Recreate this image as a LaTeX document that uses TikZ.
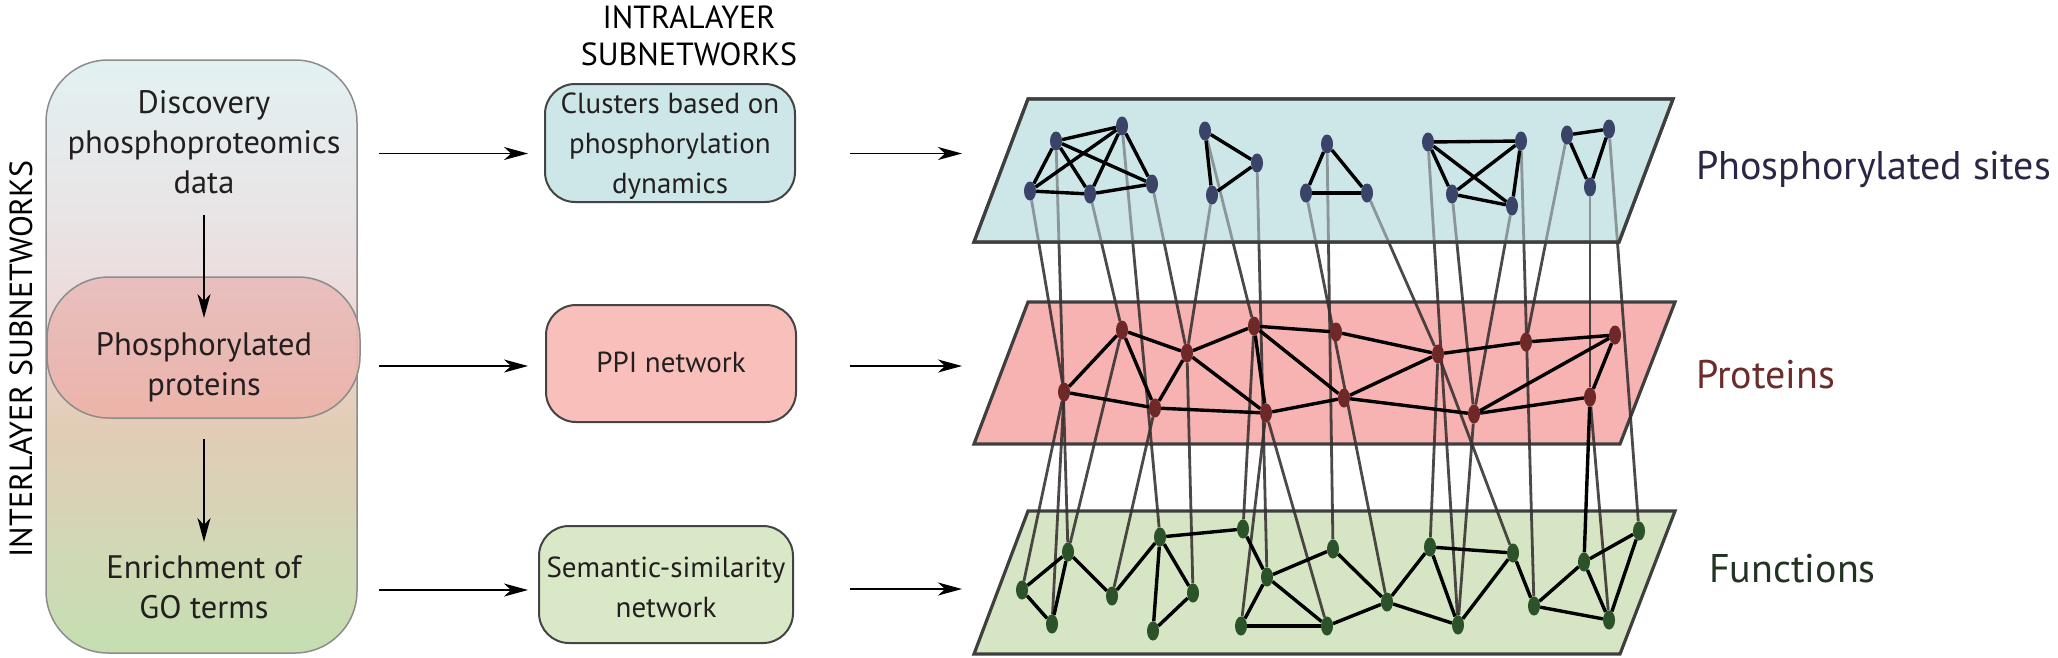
\documentclass[tikz,border=0pt]{standalone}
\usepackage{fontspec}
\setmainfont{PT Sans}
\usetikzlibrary{arrows.meta,shapes.geometric}
\definecolor{txt}{HTML}{231F20}
\definecolor{boxb}{HTML}{8C8C8C}
\definecolor{nbord}{HTML}{444444}
\definecolor{clusfill}{HTML}{CDE6E8}
\definecolor{ppifill}{HTML}{F9C0BB}
\definecolor{semfill}{HTML}{D9E8C6}
\definecolor{bluefill}{HTML}{CDE6E8}
\definecolor{redfill}{HTML}{F7B3B1}
\definecolor{greenfill}{HTML}{D6E6C4}
\definecolor{planeb}{HTML}{3F3F3F}
\definecolor{bluenode}{HTML}{3A4468}
\definecolor{rednode}{HTML}{6E2828}
\definecolor{greennode}{HTML}{2B5228}
\definecolor{interc}{HTML}{363030}
\definecolor{labblue}{HTML}{2D2545}
\definecolor{labred}{HTML}{6D2B2B}
\definecolor{labgreen}{HTML}{223322}
\definecolor{gA}{HTML}{C5DEB1}
\definecolor{gB}{HTML}{D0D9B5}
\definecolor{gC}{HTML}{E2CCB6}
\definecolor{gD}{HTML}{ECDCDC}
\definecolor{gE}{HTML}{E8E6E7}
\definecolor{gF}{HTML}{E2F1F2}
\definecolor{rtop}{HTML}{E8BCBC}
\definecolor{rbot}{HTML}{EDB2A8}
\pgfdeclareverticalshading{bigshade}{100bp}{color(0bp)=(gA); color(25bp)=(gA); color(32.8bp)=(gB); color(43.8bp)=(gC); color(55.6bp)=(gD); color(63.2bp)=(gE); color(75bp)=(gF); color(100bp)=(gF)}
\pgfdeclarelayer{planes}
\pgfdeclarelayer{inter}
\pgfdeclarelayer{cover}
\pgfdeclarelayer{edges}
\pgfsetlayers{planes,inter,cover,edges,main}
\begin{document}
\begin{tikzpicture}[x=1pt,y=-1pt,
  bnode/.style={ellipse, fill=bluenode, inner sep=0pt, minimum width=12pt, minimum height=19pt},
  rnode/.style={ellipse, fill=rednode, inner sep=0pt, minimum width=12pt, minimum height=19pt},
  gnode/.style={ellipse, fill=greennode, inner sep=0pt, minimum width=12pt, minimum height=19pt},
  intra/.style={line width=3.4pt, draw=black},
  interl/.style={line width=2.8pt, draw=interc, opacity=0.88},
  plane/.style={line width=3.2pt, draw=planeb, line join=miter},
  arr/.style={line width=1.8pt, draw=black, -{Stealth[length=24pt,width=13pt,inset=7pt]}},
  boxtxt/.style={font=\fontsize{32.5}{40}\selectfont, align=center, text=txt, inner sep=0pt},
  midtxt/.style={font=\fontsize{29}{40}\selectfont, align=center, text=txt, inner sep=0pt},
  netbox/.style={draw=nbord, line width=2pt, rounded corners=30pt, inner sep=0pt},
  lab/.style={font=\fontsize{40}{48}\selectfont, anchor=base west, inner sep=0pt},
  titl/.style={font=\fontsize{32}{37.5}\selectfont, align=center, text=black, inner sep=0pt},
]
\useasboundingbox (0,0) rectangle (2058,657);

% ---------------- left column ----------------
\node[shade, shading=bigshade, draw=boxb, line width=1.5pt, rounded corners=62pt,
      minimum width=311pt, minimum height=593pt, inner sep=0pt] (leftbox) at (201.5,356.5) {};
\node[top color=rtop, bottom color=rbot, draw=boxb, line width=1.5pt, rounded corners=62pt,
      minimum width=313pt, minimum height=141pt, inner sep=0pt, fill opacity=0.9] (protbox) at (203.5,347.5) {};
\node[boxtxt] (t1) at (204,142) {Discovery\\phosphoproteomics\\data};
\node[boxtxt] (t2) at (204,367) {Phosphorylated\\proteins};
\node[boxtxt] (t3) at (204,587) {Enrichment of\\GO terms};
\node[titl, rotate=90] (inter) at (21,359) {INTERLAYER SUBNETWORKS};
\node[titl] (intra) at (689,36) {INTRALAYER\\SUBNETWORKS};

\coordinate (v1a) at (204,215); \coordinate (v1b) at (204,318);
\coordinate (v2a) at (204,439); \coordinate (v2b) at (204,542);
\draw[arr] (v1a) -- (v1b);
\draw[arr] (v2a) -- (v2b);

% ---------------- middle column ----------------
\node[netbox, fill=clusfill, minimum width=250pt, minimum height=118pt] (clus) at (670,143) {};
\node[netbox, fill=ppifill, minimum width=250pt, minimum height=117pt] (ppi) at (671,363.5) {};
\node[netbox, fill=semfill, minimum width=254pt, minimum height=117pt] (sem) at (666,584.5) {};
\node[midtxt] (c1t) at (670,146) {Clusters based on\\phosphorylation\\dynamics};
\node[midtxt] (c2t) at (671,362) {PPI network};
\node[midtxt] (c3t) at (666,587) {Semantic-similarity\\network};

\coordinate (h1a) at (379,153.5); \coordinate (h1b) at (528,153.5);
\coordinate (h2a) at (379,366); \coordinate (h2b) at (528,366);
\coordinate (h3a) at (379,590); \coordinate (h3b) at (528,590);
\coordinate (k1a) at (850,153.5); \coordinate (k1b) at (962,153.5);
\coordinate (k2a) at (850,366); \coordinate (k2b) at (962,366);
\coordinate (k3a) at (850,589); \coordinate (k3b) at (962,589);
\draw[arr] (h1a) -- (h1b);
\draw[arr] (h2a) -- (h2b);
\draw[arr] (h3a) -- (h3b);
\draw[arr] (k1a) -- (k1b);
\draw[arr] (k2a) -- (k2b);
\draw[arr] (k3a) -- (k3b);

% ---------------- planes ----------------
\begin{pgfonlayer}{planes}
\draw[plane, fill=greenfill] (1028,511) -- (1675,511) -- (1620,654) -- (974,654) -- cycle;
\draw[plane, fill=redfill] (1028,302) -- (1675,302) -- (1620,444) -- (974,444) -- cycle;
\draw[plane, fill=bluefill] (1028,99) -- (1673,99) -- (1619,242) -- (974,242) -- cycle;
\end{pgfonlayer}
\begin{pgfonlayer}{cover}
\fill[bluefill, fill opacity=0.5] (1028,99) -- (1673,99) -- (1619,242) -- (974,242) -- cycle;
\draw[plane] (1028,99) -- (1673,99) -- (1619,242) -- (974,242) -- cycle;
\end{pgfonlayer}

% ---------------- labels ----------------
\node[lab, text=labblue] (l1) at (1696,179) {Phosphorylated sites};
\node[lab, text=labred] (l2) at (1696,388) {Proteins};
\node[lab, text=labgreen] (l3) at (1709,582) {Functions};

% ---------------- top layer nodes ----------------
\node[bnode] (A1) at (1056,141) {};
\node[bnode] (A2) at (1122,126) {};
\node[bnode] (A3) at (1030,191) {};
\node[bnode] (A4) at (1090,194) {};
\node[bnode] (A5) at (1152,184) {};
\node[bnode] (B1) at (1205,131) {};
\node[bnode] (B2) at (1257,163) {};
\node[bnode] (B3) at (1212,195) {};
\node[bnode] (C1) at (1327,144) {};
\node[bnode] (C2) at (1306,193) {};
\node[bnode] (C3) at (1367,193) {};
\node[bnode] (D1) at (1428,142) {};
\node[bnode] (D2) at (1521,141) {};
\node[bnode] (D3) at (1452,194) {};
\node[bnode] (D4) at (1512,206) {};
\node[bnode] (E1) at (1567,135) {};
\node[bnode] (E2) at (1609,129) {};
\node[bnode] (E3) at (1590,187) {};

% ---------------- middle layer nodes ----------------
\node[rnode] (R1) at (1064,392) {};
\node[rnode] (R2) at (1122,330) {};
\node[rnode] (R3) at (1155,408) {};
\node[rnode] (R4) at (1187,353) {};
\node[rnode] (R5) at (1254,326) {};
\node[rnode] (R6) at (1266,413) {};
\node[rnode] (R7) at (1336,332) {};
\node[rnode] (R8) at (1344,398) {};
\node[rnode] (R9) at (1438,354) {};
\node[rnode] (R10) at (1474,414) {};
\node[rnode] (R11) at (1526,342) {};
\node[rnode] (R12) at (1615,335) {};
\node[rnode] (R13) at (1590,397) {};

% ---------------- bottom layer nodes ----------------
\node[gnode] (G1) at (1022,590) {};
\node[gnode] (G2) at (1068,552) {};
\node[gnode] (G3) at (1052,624) {};
\node[gnode] (G4) at (1112,596) {};
\node[gnode] (G5) at (1160,537) {};
\node[gnode] (G6) at (1193,593) {};
\node[gnode] (G7) at (1153,631) {};
\node[gnode] (G8) at (1243,529) {};
\node[gnode] (G9) at (1267,577) {};
\node[gnode] (G10) at (1241,626) {};
\node[gnode] (G11) at (1333,549) {};
\node[gnode] (G12) at (1327,626) {};
\node[gnode] (G13) at (1387,602) {};
\node[gnode] (G14) at (1430,547) {};
\node[gnode] (G15) at (1458,625) {};
\node[gnode] (G16) at (1513,553) {};
\node[gnode] (G17) at (1534,606) {};
\node[gnode] (G18) at (1584,562) {};
\node[gnode] (G19) at (1609,620) {};
\node[gnode] (G20) at (1639,531) {};

% ---------------- interlayer connections ----------------
\begin{pgfonlayer}{inter}
\foreach \a/\b in {A3/R1, A1/G2, A4/R2, A2/G5, A5/R4, B3/R4, B1/R5, B2/G9, C2/G13, C1/G11,
                   C3/R9, D1/G15, D3/R10, D4/R10, D2/G17, E1/R11, E3/R13, E2/G20,
                   R1/G1, R1/G3, R2/G2, R3/G4, R4/G6, R5/G8, R6/G10, R6/G12, R9/G14,
                   R10/G15, R9/G16, R13/G19}
  \draw[interl] (\a) -- (\b);
\end{pgfonlayer}

% ---------------- intralayer edges ----------------
\begin{pgfonlayer}{edges}
\foreach \a/\b in {A1/A2, A1/A3, A1/A4, A1/A5, A2/A3, A2/A4, A2/A5, A3/A4, A4/A5,
                   B1/B2, B2/B3, B1/B3, C1/C2, C1/C3, C2/C3,
                   D1/D2, D1/D3, D1/D4, D2/D3, D2/D4, D3/D4, E1/E2, E1/E3, E2/E3,
                   R1/R2, R1/R3, R2/R3, R2/R4, R3/R4, R3/R6, R4/R5, R4/R6, R5/R6,
                   R5/R7, R5/R8, R6/R8, R7/R9, R8/R9, R8/R10, R9/R11, R10/R12,
                   R10/R13, R11/R12, R12/R13,
                   G1/G2, G1/G3, G2/G3, G2/G4, G4/G5, G5/G6, G5/G7, G6/G7, G5/G8,
                   G8/G9, G9/G10, G9/G11, G9/G12, G10/G12, G11/G13, G12/G13,
                   G13/G14, G13/G15, G14/G15, G14/G16, G15/G16, G16/G17, G17/G18,
                   G17/G19, G18/G19, G18/G20, G19/G20, R13/G18}
  \draw[intra] (\a) -- (\b);
\end{pgfonlayer}
\end{tikzpicture}
\end{document}
